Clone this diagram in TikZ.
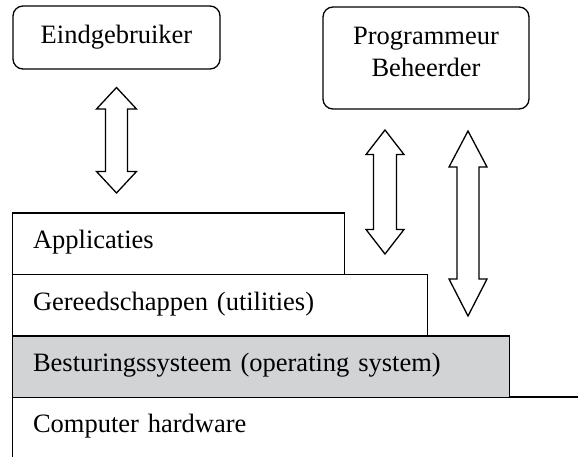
\documentclass[tikz,border=0pt]{standalone}
\usepackage{fontspec}
\setmainfont{Liberation Serif}
\begin{document}
\begin{tikzpicture}[x=1pt,y=-1pt,
  every node/.style={font=\fontsize{26.5}{32}\selectfont, inner sep=0pt, outer sep=0pt},
  ubox/.style={draw, line width=1.3pt, rounded corners=10pt},
  layer/.style={draw, line width=1.3pt, anchor=north west, minimum height=61.5pt,
     text height=18pt, text depth=8pt, align=left, inner xsep=20.5pt},
  blk/.style={draw, line width=1.3pt, line join=miter, fill=white}]
\useasboundingbox (0,0) rectangle (578,457);
\definecolor{osgray}{HTML}{D1D3D4}

% user boxes
\node[ubox, minimum width=207pt, minimum height=63pt] (user) at (116.5,37.5) {Eindgebruiker};
\node[ubox, minimum width=206pt, minimum height=102pt] (prog) at (426,58) {};
\node[anchor=base] (progt1) at (426,45) {Programmeur};
\node[anchor=base] (progt2) at (426,77) {Beheerder};

% layers
\node[draw=none, anchor=north west, minimum width=566pt, minimum height=60pt,
      text height=18pt, text depth=8pt, align=left, inner xsep=20.5pt, text width=525pt] (hw) at (12.5,397) {Computer hardware};
\draw[line width=1.3pt] (hw.south west) -- (hw.north west) -- (hw.north east);
\node[layer, fill=osgray, minimum width=497pt, text width=456pt] (os) at (12.5,336) {Besturingssysteem (operating system)};
\node[layer, minimum width=415pt, text width=374pt] (util) at (12.5,274.5) {Gereedschappen (utilities)};
\node[layer, minimum width=332pt, text width=291pt] (app) at (12.5,213) {Applicaties};

% block double arrows: cx, top tip, top head base, bottom head base, bottom tip, shaft half, head half
\newcommand\dblblock[7]{%
  \draw[blk] (#1,#2) -- (#1+#7,#3) -- (#1+#6,#3) -- (#1+#6,#4) -- (#1+#7,#4) -- (#1,#5)
    -- (#1-#7,#4) -- (#1-#6,#4) -- (#1-#6,#3) -- (#1-#7,#3) -- cycle;}
\dblblock{116.5}{87.5}{109}{171.5}{193}{11}{20}
\dblblock{385}{130}{154.5}{229.5}{254}{11.5}{19}
\dblblock{468}{131}{167}{279}{316}{11}{19}
\end{tikzpicture}
\end{document}
